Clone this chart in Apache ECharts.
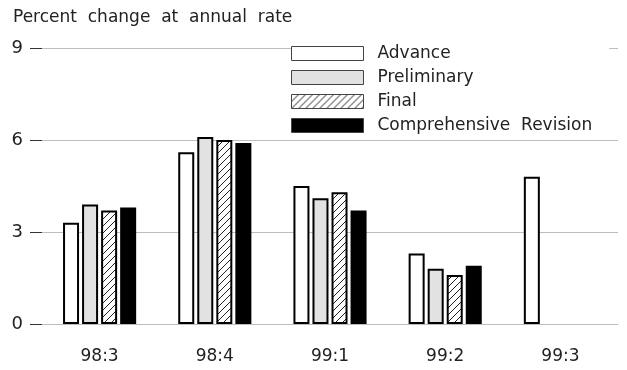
<!DOCTYPE html>
<html>
<head>
<meta charset="utf-8">
<script src="https://cdn.jsdelivr.net/npm/echarts@6/dist/echarts.min.js"></script>
<style>
  html, body { margin: 0; padding: 0; background: #fff; }
  #chart { width: 627px; height: 370px; }
</style>
</head>
<body>
<div id="chart"></div>
<script>
// 季度
var categories = ['98:3', '98:4', '99:1', '99:2', '99:3'];
// 各次估计值
var advance = [3.3, 5.6, 4.5, 2.3, 4.8];
var preliminary = [3.9, 6.1, 4.1, 1.8, null];
var finalEst = [3.7, 6.0, 4.3, 1.6, null];
var comprehensive = [3.8, 5.9, 3.7, 1.9, null];
var yTicks = [0, 3, 6, 9];

var FONT = 'DejaVu Sans';

// 斜线填充
function makeHatch() {
    var c = document.createElement('canvas');
    c.width = 7;
    c.height = 7;
    var ctx = c.getContext('2d');
    ctx.fillStyle = '#fff';
    ctx.fillRect(0, 0, 7, 7);
    ctx.strokeStyle = '#222';
    ctx.lineWidth = 1;
    ctx.beginPath();
    ctx.moveTo(-1, 8); ctx.lineTo(8, -1);
    ctx.moveTo(-1, 1); ctx.lineTo(1, -1);
    ctx.moveTo(6, 8); ctx.lineTo(8, 6);
    ctx.stroke();
    return c;
}
var hatch = makeHatch();

function barSeries(name, data, fill) {
    return {
        type: 'bar',
        name: name,
        data: data,
        barWidth: 16,
        barGap: '19%',
        itemStyle: {
            color: fill,
            borderColor: '#000',
            borderWidth: 2
        }
    };
}

var chart = echarts.init(document.getElementById('chart'));
var option = {
    animation: false,
    title: {
        text: 'Percent  change  at  annual  rate',
        left: 8,
        top: 4,
        textStyle: { fontFamily: FONT, fontSize: 17, fontWeight: 'normal', color: '#222' }
    },
    grid: { left: 42, right: 9, top: 48, bottom: 46 },
    legend: {
        orient: 'vertical',
        left: 291,
        top: 41,
        padding: [4, 17, 2, 0],
        backgroundColor: '#fff',
        icon: 'rect',
        itemWidth: 72,
        itemHeight: 14,
        itemGap: 7,
        itemStyle: { borderWidth: 1, borderColor: '#444' },
        textStyle: { fontFamily: FONT, fontSize: 17, color: '#222', lineHeight: 15, padding: [0, 0, 0, 9] },
        data: ['Advance', 'Preliminary', 'Final', 'Comprehensive Revision'],
        formatter: function (n) { return n.replace(' ', '  '); }
    },
    xAxis: {
        type: 'category',
        data: categories,
        axisLine: { lineStyle: { color: '#bdbdbd' } },
        axisTick: { show: false },
        axisLabel: { fontFamily: FONT, fontSize: 17, color: '#222', margin: 24 }
    },
    yAxis: {
        type: 'value',
        min: yTicks[0],
        max: yTicks[yTicks.length - 1],
        interval: 3,
        axisLine: { show: false },
        axisTick: { show: true, length: 12, lineStyle: { color: '#333' } },
        axisLabel: { fontFamily: FONT, fontSize: 18, color: '#222', margin: 19 },
        splitLine: { lineStyle: { color: '#bdbdbd' } }
    },
    series: [
        barSeries('Advance', advance, '#fff'),
        barSeries('Preliminary', preliminary, '#e2e2e2'),
        barSeries('Final', finalEst, { image: hatch, repeat: 'repeat' }),
        barSeries('Comprehensive Revision', comprehensive, '#000')
    ]
};
chart.setOption(option);
</script>
</body>
</html>
